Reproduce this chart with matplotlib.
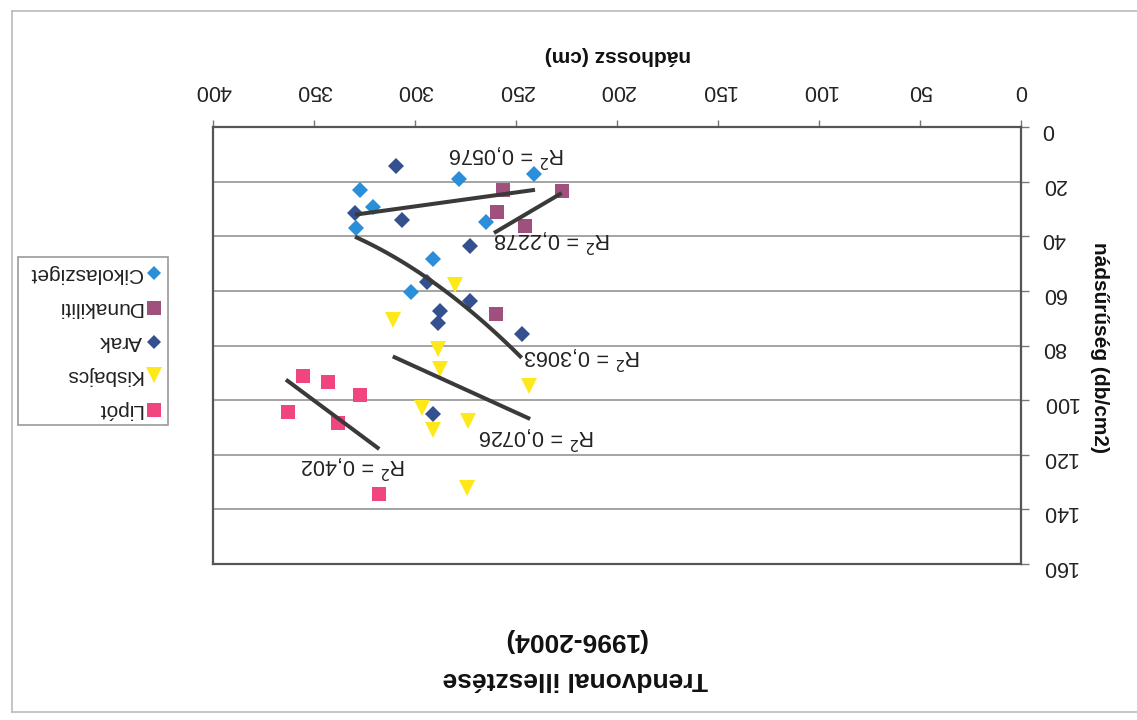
import numpy as np
import matplotlib
matplotlib.use("Agg")
import matplotlib.pyplot as plt
from matplotlib.patches import Rectangle

plt.rcParams['font.family'] = ['Liberation Sans', 'DejaVu Sans']

# ---- data (nádhossz cm, nádsűrűség db/cm2) ----
cik_x = [241, 278, 327, 321, 329, 265, 291, 302]
cik_y = [17.1, 19.0, 23.0, 29.3, 37.0, 34.6, 48.3, 60.3]

duna_x = [227.0, 256.6, 259.6, 245.5, 260.0]
duna_y = [23.6, 23.2, 31.3, 36.4, 68.4]

arak_x = [309.4, 329.7, 306.6, 272.8, 294.2, 272.8, 287.6, 288.5, 247.2, 290.9]
arak_y = [14.4, 31.5, 34.2, 43.4, 56.9, 63.6, 67.3, 71.6, 75.7, 105.1]

kis_x = [280.0, 311.0, 288.5, 287.6, 243.5, 296.7, 291.0, 274.0, 274.4]
kis_y = [57.8, 70.6, 81.3, 88.7, 95.0, 103.0, 110.9, 107.8, 132.3]

lip_x = [355.6, 343.2, 327.2, 362.7, 338.3, 317.7]
lip_y = [91.0, 93.2, 98.3, 104.2, 108.4, 134.4]

# trendlines (Excel trendlines)
cik_trend_x = [240.6, 329.7]
cik_trend_y = [23.0, 32.1]
duna_trend_x = [227.4, 260.9]
duna_trend_y = [24.2, 38.8]
arak_trend_x = [329.7, 312.4, 295.9, 282.7, 267.8, 247.2]
arak_trend_y = [38.8, 48.6, 55.9, 60.2, 68.1, 85.8]
kis_trend_x = [311.0, 243.0]
kis_trend_y = [84.0, 106.9]
lip_trend_x = [363.9, 317.7]
lip_trend_y = [92.5, 117.9]

series_names = ["Cikolasziget", "Dunakiliti", "Arak", "Kisbajcs", "Lipót"]
trend_degree = [1, 1, 2, 1, 1]
r2_labels = ["R$^2$ = 0,0576", "R$^2$ = 0,2278", "R$^2$ = 0,3063",
             "R$^2$ = 0,0726", "R$^2$ = 0,402"]
x_ticks = [0, 50, 100, 150, 200, 250, 300, 350, 400]
y_ticks = [0, 20, 40, 60, 80, 100, 120, 140, 160]

data = [(cik_x, cik_y), (duna_x, duna_y), (arak_x, arak_y), (kis_x, kis_y), (lip_x, lip_y)]
trends = [(cik_trend_x, cik_trend_y), (duna_trend_x, duna_trend_y),
          (arak_trend_x, arak_trend_y), (kis_trend_x, kis_trend_y),
          (lip_trend_x, lip_trend_y)]
colors = ["#2a8fd8", "#a0507c", "#34508f", "#ffe81a", "#f0457e"]
markers = ["D", "s", "D", "v", "s"]
msizes = [8, 10, 8, 11.5, 10]

W, H = 1137, 720
fig = plt.figure(figsize=(W / 100, H / 100), dpi=100)
fig.patch.set_facecolor("white")

L, R, T, B = 213, 1021, 127, 564
ax = fig.add_axes([L / W, 1 - B / H, (R - L) / W, (B - T) / H])
ax.set_xlim(400, 0)
ax.set_ylim(160, 0)
ax.set_xticks(x_ticks)
ax.set_yticks(y_ticks)
ax.xaxis.tick_top()
ax.yaxis.tick_right()
ax.tick_params(axis='x', direction='out', length=5, width=1, color='#777',
               pad=14, labelsize=15.5, labelrotation=180, labelcolor='#222')
ax.tick_params(axis='y', direction='out', length=6, width=1, color='#777',
               pad=9, labelsize=15.5, labelrotation=180, labelcolor='#222')
ax.yaxis.grid(True, color='#8c8c8c', lw=1.1)
ax.set_axisbelow(True)
for s in ax.spines.values():
    s.set_color('#555555')
    s.set_linewidth(1.6)

for (xs, ys), (tx, ty), c, m, ms, deg in zip(data, trends, colors, markers,
                                             msizes, trend_degree):
    ax.plot(xs, ys, linestyle='none', marker=m, markersize=ms, color=c,
            markeredgewidth=0, zorder=3)
    coef = np.polyfit(tx, ty, deg)
    xx = np.linspace(min(tx), max(tx), 60)
    ax.plot(xx, np.polyval(coef, xx), color='#3a3a3a', lw=2.9, zorder=4,
            solid_capstyle='butt')

# overlay in pixel coordinates for decorations
ov = fig.add_axes([0, 0, 1, 1], zorder=5)
ov.set_xlim(0, W)
ov.set_ylim(H, 0)
ov.axis('off')
ov.patch.set_alpha(0)

# outer chart frame
ov.plot([12, W], [11, 11], color='#bbbbbb', lw=1.2)
ov.plot([12, 12], [11, 712], color='#bbbbbb', lw=1.2)
ov.plot([12, W], [712, 712], color='#bbbbbb', lw=1.2)

# R² labels
r2_pos = [(507, 155), (552, 240), (582, 357), (537, 437), (353, 466)]
for txt, (px, py) in zip(r2_labels, r2_pos):
    ov.text(px, py, txt, rotation=180, ha='center', va='center',
            fontsize=15.5, color='#222')

# axis titles and chart title
ov.text(618, 55, "nádhossz (cm)", rotation=180, ha='center', va='center',
        fontsize=15, fontweight='bold', color='#111')
ov.text(1099, 347, "nádsűrűség (db/cm2)", rotation=270, ha='center', va='center',
        fontsize=15, fontweight='bold', color='#111')
ov.text(575, 640, "(1996-2004)", rotation=180, ha='center', va='center',
        fontsize=19, fontweight='bold', color='#111')
ov.text(575, 679, "Trendvonal illesztése", rotation=180, ha='center', va='center',
        fontsize=19, fontweight='bold', color='#111')

# legend
ov.add_patch(Rectangle((18, 257), 150, 168, fill=False, edgecolor='#999999', lw=1.2))
leg_y = [273, 308, 342, 375, 410]
for name, c, m, ms, ly in zip(series_names, colors, markers, msizes, leg_y):
    ov.plot([154], [ly], marker=m, markersize=ms * 0.95, color=c,
            markeredgewidth=0, linestyle='none')
    ov.text(142, ly, name, rotation=180, ha='right', va='center',
            fontsize=15, color='#222')

fig.savefig("out.png", dpi=100)
